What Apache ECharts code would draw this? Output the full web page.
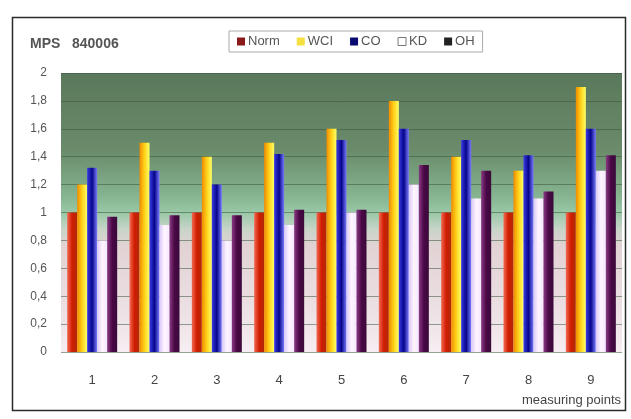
<!DOCTYPE html>
<html>
<head>
<meta charset="utf-8">
<script src="https://cdn.jsdelivr.net/npm/echarts@6/dist/echarts.min.js"></script>
<style>
html,body{margin:0;padding:0;background:#fff;}
#chart{width:631px;height:419px;}
</style>
</head>
<body>
<div id="chart"></div>
<script>
// Measuring points on the x axis
const categories = ['1', '2', '3', '4', '5', '6', '7', '8', '9'];

// Relative values per measuring point
const normValues = [1.0, 1.0, 1.0, 1.0, 1.0, 1.0, 1.0, 1.0, 1.0];
const wciValues  = [1.2, 1.5, 1.4, 1.5, 1.6, 1.8, 1.4, 1.3, 1.9];
const coValues   = [1.32, 1.3, 1.2, 1.42, 1.52, 1.6, 1.52, 1.41, 1.6];
const kdValues   = [0.8, 0.91, 0.8, 0.91, 1.0, 1.2, 1.1, 1.1, 1.3];
const ohValues   = [0.97, 0.98, 0.98, 1.02, 1.02, 1.34, 1.3, 1.15, 1.41];

const seriesNames = ['Norm', 'WCI', 'CO', 'KD', 'OH'];
const yTickLabels = ['0', '0,2', '0,4', '0,6', '0,8', '1', '1,2', '1,4', '1,6', '1,8', '2'];

function hGrad(stops) {
  return {
    type: 'linear', x: 0, y: 0, x2: 1, y2: 0,
    colorStops: stops.map(function (c, i) { return { offset: i / (stops.length - 1), color: c }; })
  };
}

const barFills = [
  hGrad(['#f26a52', '#d01c00', '#b02a08']),
  hGrad(['#f08a00', '#ffd21a', '#ffff66']),
  hGrad(['#3a3ae6', '#06068a', '#7a7aff']),
  hGrad(['#d8c8f8', '#fff4ff', '#f4e8ff']),
  hGrad(['#8a3a84', '#4a0846', '#3a0a3a'])
];
const legendColors = ['#8a1a1a', '#f4e040', '#0a0a70', '#ffffff', '#222222'];
const seriesValues = [normValues, wciValues, coValues, kdValues, ohValues];

const chart = echarts.init(document.getElementById('chart'), null, { renderer: 'canvas' });

chart.setOption({
  backgroundColor: '#ffffff',
  animation: false,
  textStyle: { fontFamily: 'Liberation Sans, Arial, sans-serif' },
  title: {
    text: 'MPS   840006',
    left: 25, top: 32,
    textStyle: { fontSize: 14, fontWeight: 'bold', color: '#555' }
  },
  legend: {
    left: 229, top: 31,
    padding: [4, 8],
    borderColor: '#aaa', borderWidth: 1,
    backgroundColor: '#ffffff',
    itemWidth: 8, itemHeight: 8, itemGap: 17,
    textStyle: { fontSize: 13, color: '#555', padding: [0, 0, 0, -2] },
    data: seriesNames.map(function (n, i) {
      return { name: n, icon: 'rect', itemStyle: { color: legendColors[i], borderColor: '#777', borderWidth: i === 3 ? 1 : 0 } };
    })
  },
  grid: {
    left: 61, right: 9, top: 73, bottom: 67,
    show: true,
    borderWidth: 0,
    backgroundColor: {
      type: 'linear', x: 0, y: 0, x2: 0, y2: 1,
      colorStops: [
        { offset: 0, color: '#5a785b' },
        { offset: 0.28, color: '#6a8c6b' },
        { offset: 0.44, color: '#86b490' },
        { offset: 0.5, color: '#98c8a6' },
        { offset: 0.56, color: '#c8d4c8' },
        { offset: 0.62, color: '#e2d2d4' },
        { offset: 0.85, color: '#ece0e4' },
        { offset: 1, color: '#f6eef2' }
      ]
    }
  },
  xAxis: {
    type: 'category',
    data: categories,
    axisLine: { show: false },
    axisTick: { show: false },
    axisLabel: { margin: 22, fontSize: 13, color: '#444' }
  },
  yAxis: {
    type: 'value',
    min: 0, max: 2, interval: 0.2,
    axisLine: { show: false },
    axisTick: { show: false },
    axisLabel: {
      margin: 14, fontSize: 12, color: '#555',
      formatter: function (v) { return yTickLabels[Math.round(v / 0.2)]; }
    },
    splitLine: { lineStyle: { color: 'rgba(60,85,60,0.55)', width: 1 } }
  },
  series: seriesNames.map(function (n, i) {
    return {
      name: n,
      type: 'bar',
      data: seriesValues[i],
      barWidth: 10,
      barGap: '0%',
      itemStyle: { color: barFills[i] }
    };
  }),
  graphic: [
    {
      type: 'rect', silent: true, z: 100,
      shape: { x: 12.5, y: 17.5, width: 613, height: 393 },
      style: { fill: 'none', stroke: '#2a2a2a', lineWidth: 1.5 }
    },
    {
      type: 'text', left: 522, top: 394,
      style: { text: 'measuring points', fontSize: 13, fill: '#444', fontFamily: 'Liberation Sans, Arial, sans-serif' }
    }
  ]
});
</script>
</body>
</html>
